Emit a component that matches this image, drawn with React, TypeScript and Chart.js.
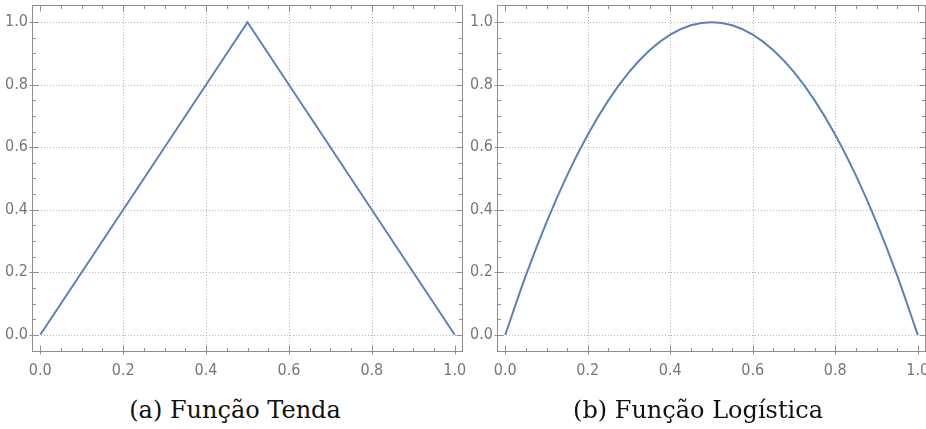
import React, { useEffect, useRef } from "react";
import { Chart, registerables } from "chart.js";
Chart.register(...registerables);

// ---- data ----
const tentX = [0, 0.5, 1];
const tentY = [0, 1, 0];
const logX = [0, 0.05, 0.1, 0.15, 0.2, 0.25, 0.3, 0.35, 0.4, 0.45, 0.5, 0.55, 0.6, 0.65, 0.7, 0.75, 0.8, 0.85, 0.9, 0.95, 1];
const logY = [0, 0.19, 0.36, 0.51, 0.64, 0.75, 0.84, 0.91, 0.96, 0.99, 1.0, 0.99, 0.96, 0.91, 0.84, 0.75, 0.64, 0.51, 0.36, 0.19, 0];
const majorTicks = [0, 0.2, 0.4, 0.6, 0.8, 1.0];
const minorTicks = [0.05, 0.1, 0.15, 0.25, 0.3, 0.35, 0.45, 0.5, 0.55, 0.65, 0.7, 0.75, 0.85, 0.9, 0.95];
const captions = ["(a) Função Tenda", "(b) Função Logística"];

const LINE = "#5e81b5";
const FRAME = "#8e8e8e";
const GRID = "#b4b4b4";
const LABEL = "#777777";
const TICK_FONT = "'Liberation Sans Narrow', 'DejaVu Sans Condensed', 'Roboto', sans-serif";

const framePlugin = {
  id: "mmaFrame",
  beforeDatasetsDraw(chart: any) {
    const { ctx, chartArea: a, scales } = chart;
    const sx = scales.x, sy = scales.y;
    ctx.save();
    ctx.strokeStyle = GRID;
    ctx.lineWidth = 1;
    ctx.setLineDash([1, 2]);
    for (const v of majorTicks) {
      if (v !== 0 && v !== 1) {
        const px = Math.round(sx.getPixelForValue(v)) + 0.5;
        ctx.beginPath();
        ctx.moveTo(px, a.top);
        ctx.lineTo(px, a.bottom);
        ctx.stroke();
      }
      const py = Math.round(sy.getPixelForValue(v)) + 0.5;
      ctx.beginPath();
      ctx.moveTo(a.left, py);
      ctx.lineTo(a.right, py);
      ctx.stroke();
    }
    ctx.restore();
  },
  afterDraw(chart: any) {
    const { ctx, chartArea: a, scales } = chart;
    const sx = scales.x, sy = scales.y;
    ctx.save();
    ctx.strokeStyle = FRAME;
    ctx.lineWidth = 1;
    const L = a.left + 0.5, R = a.right - 0.5, T = a.top + 0.5, B = a.bottom - 0.5;
    ctx.strokeRect(L, T, R - L, B - T);
    const seg = (x1: number, y1: number, x2: number, y2: number) => {
      ctx.beginPath();
      ctx.moveTo(x1, y1);
      ctx.lineTo(x2, y2);
      ctx.stroke();
    };
    for (const v of majorTicks) {
      const px = Math.round(sx.getPixelForValue(v)) + 0.5;
      seg(px, B + 3, px, B - 6);
      seg(px, T, px, T + 6);
      const py = Math.round(sy.getPixelForValue(v)) + 0.5;
      seg(L - 3, py, L + 6, py);
      seg(R, py, R - 6, py);
    }
    for (const v of minorTicks) {
      const px = Math.round(sx.getPixelForValue(v)) + 0.5;
      seg(px, B, px, B - 3.5);
      seg(px, T, px, T + 3.5);
      const py = Math.round(sy.getPixelForValue(v)) + 0.5;
      seg(L, py, L + 3.5, py);
      seg(R, py, R - 3.5, py);
    }
    ctx.restore();
  },
};

function Panel(props: { xs: number[]; ys: number[]; width: number; height: number; yAxisWidth: number; padRight: number; smooth: boolean }) {
  const ref = useRef<HTMLCanvasElement>(null);
  useEffect(() => {
    const canvas = ref.current!;
    const data = props.xs.map((x, i) => ({ x, y: props.ys[i] }));
    const chart = new Chart(canvas, {
      type: "line",
      data: {
        datasets: [
          {
            data,
            borderColor: LINE,
            borderWidth: 2,
            pointRadius: 0,
            fill: false,
            cubicInterpolationMode: props.smooth ? "monotone" : "default",
            tension: 0,
          } as any,
        ],
      },
      options: {
        animation: false,
        responsive: false,
        devicePixelRatio: 1,
        layout: { padding: { top: 5, right: props.padRight, left: 0, bottom: 0 } },
        plugins: { legend: { display: false }, tooltip: { enabled: false } },
        scales: {
          x: {
            type: "linear",
            min: -0.02,
            max: 1.02,
            grid: { display: false, drawTicks: false },
            border: { display: false },
            afterBuildTicks: (s: any) => {
              s.ticks = majorTicks.map((v) => ({ value: v }));
            },
            afterFit: (s: any) => {
              s.height = 33;
              s.paddingLeft = 0;
              s.paddingRight = 0;
            },
            ticks: {
              color: LABEL,
              padding: 9,
              maxRotation: 0,
              autoSkip: false,
              font: { family: TICK_FONT, size: 16 },
              callback: (v: any) => Number(v).toFixed(1),
            },
          },
          y: {
            type: "linear",
            min: -0.055,
            max: 1.055,
            grid: { display: false, drawTicks: false },
            border: { display: false },
            afterBuildTicks: (s: any) => {
              s.ticks = majorTicks.map((v) => ({ value: v }));
            },
            afterFit: (s: any) => {
              s.width = props.yAxisWidth;
              s.paddingTop = 0;
              s.paddingBottom = 0;
            },
            ticks: {
              color: LABEL,
              padding: 4,
              autoSkip: false,
              font: { family: TICK_FONT, size: 16 },
              callback: (v: any) => Number(v).toFixed(1),
            },
          },
        },
      },
      plugins: [framePlugin],
    });
    return () => chart.destroy();
  }, []);
  return <canvas ref={ref} width={props.width} height={props.height} style={{ width: props.width, height: props.height, display: "block" }} />;
}

export default function App() {
  const capStyle: React.CSSProperties = {
    position: "absolute",
    top: 396,
    width: 470,
    textAlign: "center",
    fontFamily: "'DejaVu Serif', 'Liberation Serif', serif",
    fontSize: 24,
    lineHeight: "28px",
    color: "#111",
    whiteSpace: "nowrap",
  };
  return (
    <div style={{ position: "fixed", left: 0, top: 0, width: 926, height: 429, background: "#fff", overflow: "hidden" }}>
      <div style={{ position: "absolute", left: 0, top: 0 }}>
        <Panel xs={tentX} ys={tentY} width={470} height={385} yAxisWidth={32} padRight={7} smooth={false} />
      </div>
      <div style={{ position: "absolute", left: 463, top: 0 }}>
        <Panel xs={logX} ys={logY} width={463} height={385} yAxisWidth={34} padRight={0} smooth={true} />
      </div>
      <div style={{ ...capStyle, left: 0 }}>{captions[0]}</div>
      <div style={{ ...capStyle, left: 463 }}>{captions[1]}</div>
    </div>
  );
}
